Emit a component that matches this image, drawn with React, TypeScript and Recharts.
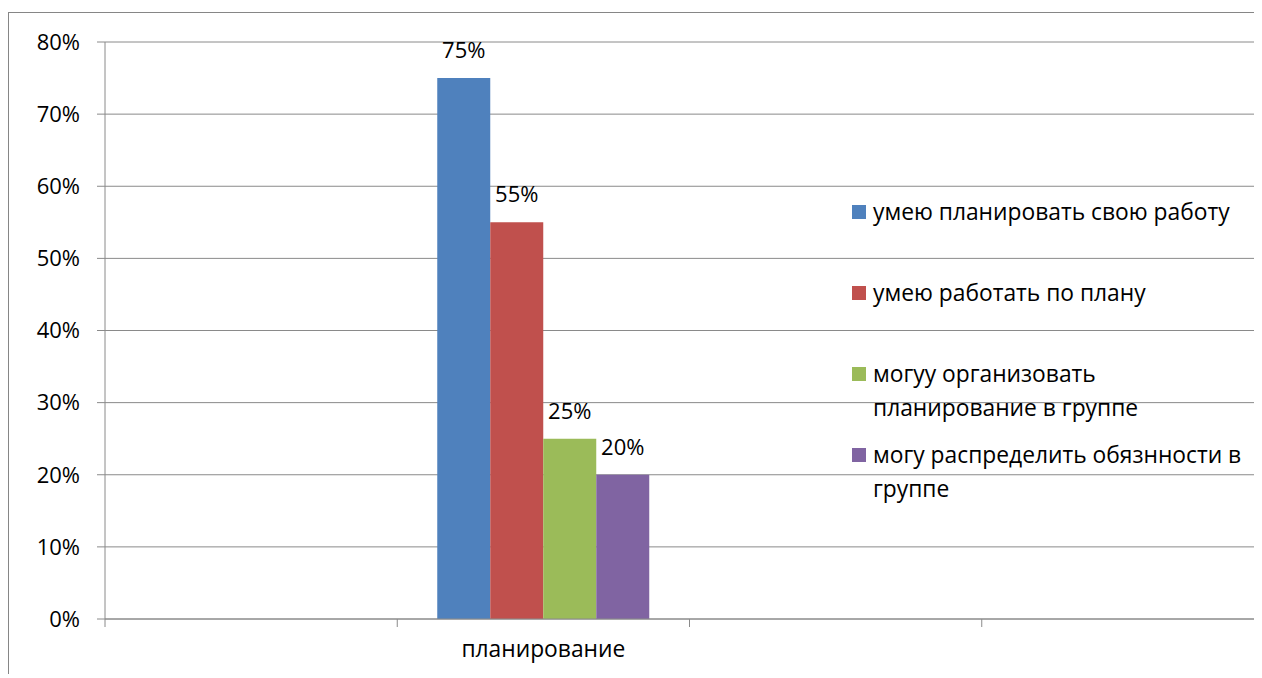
import {
  Bar,
  BarChart,
  CartesianGrid,
  LabelList,
  Legend,
  XAxis,
  YAxis,
} from "recharts";

// категории оси X (только вторая подписана)
const categories = [" ", "планирование", "  ", "   "];

const seriesNames = [
  "умею планировать свою работу",
  "умею работать по плану",
  "могуу организовать планирование в группе",
  "могу распределить обязнности в группе",
];

const planOwnWork = [null, 75, null, null];
const workByPlan = [null, 55, null, null];
const organizeGroup = [null, 25, null, null];
const distributeDuties = [null, 20, null, null];

const yTicks = [0, 10, 20, 30, 40, 50, 60, 70, 80];

const COLORS = ["#4F81BD", "#C0504D", "#9BBB59", "#8064A2"];
const KEYS = ["s0", "s1", "s2", "s3"];
const FONT = "'Open Sans', sans-serif";
const GRID = "#8a8a8a";

const seriesValues = [planOwnWork, workByPlan, organizeGroup, distributeDuties];

const data = categories.map((name, i) => {
  const row: Record<string, string | number | null> = { name };
  KEYS.forEach((k, s) => {
    row[k] = seriesValues[s][i];
  });
  return row;
});

// подпись по центру категории, засечки — на границах категорий (как в Excel)
function CategoryTick(props: any) {
  const { x, y, payload, index, visibleTicksCount } = props;
  const half = payload.offset ?? 0;
  const isLast = index === visibleTicksCount - 1;
  return (
    <g>
      <line x1={x - half} x2={x - half} y1={y} y2={y + 8} stroke={GRID} />
      {isLast && (
        <line x1={x + half} x2={x + half} y1={y} y2={y + 8} stroke={GRID} />
      )}
      <text
        x={x}
        y={y + 22}
        dy="0.71em"
        textAnchor="middle"
        fontSize={22.8}
        fill="#000">
        {payload.value}
      </text>
    </g>
  );
}

function LegendBox() {
  return (
    <div style={{ fontFamily: FONT, fontSize: 22.8, color: "#000" }}>
      {seriesNames.map((label, i) => (
        <div
          key={label}
          style={{ display: "flex", alignItems: "flex-start", height: 81 }}>
          <div
            style={{
              width: 14,
              height: 14,
              background: COLORS[i],
              marginTop: 10,
              marginRight: 7,
              flexShrink: 0,
            }}
          />
          <div style={{ width: 378, lineHeight: "34px" }}>{label}</div>
        </div>
      ))}
    </div>
  );
}

export default function App() {
  return (
    <div
      style={{
        position: "relative",
        top: 4,
        width: 1254,
        height: 666,
        overflow: "hidden",
        borderLeft: "1px solid #868686",
        borderTop: "1px solid #868686",
        boxSizing: "border-box",
      }}>
      <style>{"html{overflow:hidden}"}</style>
      <BarChart
        width={1280}
        height={666}
        data={data}
        margin={{ top: 29, right: 15, left: 0, bottom: 0 }}
        barCategoryGap={40}
        barGap={0}
        style={{ fontFamily: FONT }}>
        <CartesianGrid vertical={false} stroke={GRID} />
        <XAxis
          dataKey="name"
          interval={0}
          tickSize={0}
          tickMargin={0}
          height={60}
          axisLine={{ stroke: GRID }}
          tickLine={false}
          tick={<CategoryTick />}
        />
        <YAxis
          domain={[0, 80]}
          ticks={yTicks}
          tickFormatter={(v) => `${v}%`}
          width={96}
          tickSize={8}
          tickMargin={17}
          axisLine={{ stroke: GRID }}
          tickLine={{ stroke: GRID }}
          tick={{ fontSize: 22, fill: "#000" }}
        />
        <Legend
          layout="horizontal"
          verticalAlign="middle"
          align="center"
          wrapperStyle={{ left: 843, top: 182, width: 420 }}
          content={() => <LegendBox />}
        />
        {KEYS.map((k, i) => (
          <Bar
            key={k}
            dataKey={k}
            name={seriesNames[i]}
            fill={COLORS[i]}
            isAnimationActive={false}>
            <LabelList
              dataKey={k}
              position="top"
              offset={20}
              formatter={(v: number) => `${v}%`}
              style={{ fontSize: 22, fill: "#000" }}
            />
          </Bar>
        ))}
      </BarChart>
    </div>
  );
}
